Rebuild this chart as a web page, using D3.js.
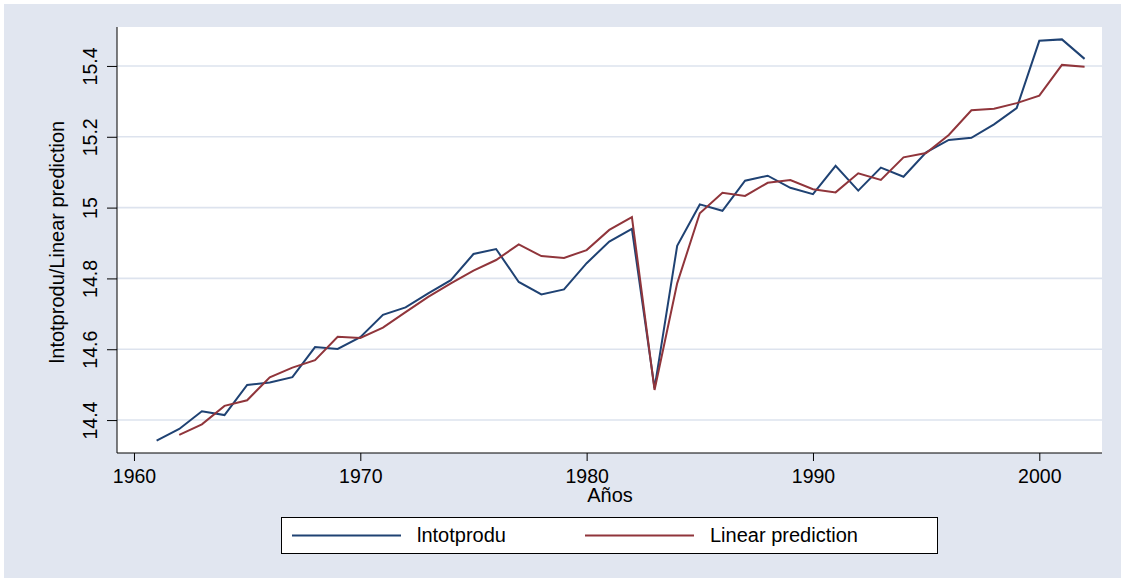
<!DOCTYPE html>
<html>
<head>
<meta charset="utf-8">
<script src="https://cdn.jsdelivr.net/npm/d3@7"></script>
<style>
  html, body { margin: 0; padding: 0; background: #ffffff; }
  svg { display: block; font-family: "Liberation Sans", Arial, sans-serif; }
</style>
</head>
<body>
<svg id="chart" width="1121" height="578"></svg>
<script>
// ---- data ----
const yearsActual = d3.range(1961, 2003);
const lntotprodu = [
  14.342, 14.375, 14.425, 14.414, 14.499, 14.506, 14.521, 14.606, 14.601, 14.634, 14.697, 14.718,
  14.758, 14.795, 14.869, 14.883, 14.790, 14.755, 14.769, 14.843, 14.904, 14.940,
  14.490, 14.892, 15.009, 14.991, 15.076, 15.090, 15.056, 15.038, 15.118, 15.048,
  15.113, 15.087, 15.156, 15.191, 15.197, 15.235, 15.281, 15.471, 15.475, 15.420
];
const yearsPred = d3.range(1962, 2003);
const linearPrediction = [
  14.358, 14.388, 14.440, 14.456, 14.521, 14.548, 14.569, 14.635, 14.632, 14.661, 14.705,
  14.748, 14.786, 14.822, 14.852, 14.896, 14.863, 14.858, 14.880, 14.937, 14.973,
  14.485, 14.786, 14.984, 15.042, 15.033, 15.070, 15.078, 15.052, 15.043, 15.097,
  15.078, 15.142, 15.154, 15.205, 15.275, 15.279, 15.295, 15.316, 15.403, 15.398
];
const xTicks = [1960, 1970, 1980, 1990, 2000];
const yTicks = [14.4, 14.6, 14.8, 15.0, 15.2, 15.4];
const seriesNames = ["lntotprodu", "Linear prediction"];
const seriesColors = ["#1f4273", "#90353b"];
const xTitle = "Años";
const yTitle = "lntotprodu/Linear prediction";

// ---- layout ----
const W = 1121, H = 578;
const plot = { left: 117, right: 1102, top: 27, bottom: 453 };
const bg = "#e1e6f0";
const gridColor = "#dde3ee";

const svg = d3.select("#chart");
svg.append("rect").attr("x", 0).attr("y", 0).attr("width", W).attr("height", H).attr("fill", "#ffffff");
svg.append("rect").attr("x", 4).attr("y", 4).attr("width", W - 4).attr("height", H - 4).attr("fill", bg);
svg.append("rect").attr("x", plot.left).attr("y", plot.top)
  .attr("width", plot.right - plot.left).attr("height", plot.bottom - plot.top).attr("fill", "#ffffff");

const x = d3.scaleLinear().domain([1959.25, 2002.77]).range([plot.left, plot.right]);
const y = d3.scaleLinear().domain([14.307, 15.510]).range([plot.bottom, plot.top]);

// grid
svg.append("g").selectAll("line").data(yTicks).join("line")
  .attr("x1", plot.left).attr("x2", plot.right)
  .attr("y1", d => y(d)).attr("y2", d => y(d))
  .attr("stroke", gridColor).attr("stroke-width", 1.6);

// axes
const fmtY = d => (d === 15 ? "15" : d3.format(".1f")(d));
const yAxis = d3.axisLeft(y).tickValues(yTicks).tickFormat(fmtY).tickSize(10).tickPadding(8);
const gy = svg.append("g").attr("transform", `translate(${plot.left},0)`).call(yAxis);
gy.select(".domain").attr("d", `M0,${plot.top}V${plot.bottom}`).attr("stroke", "#000");
gy.selectAll(".tick line").attr("stroke", "#000");
gy.selectAll(".tick text")
  .attr("font-size", 19.5).attr("fill", "#000")
  .attr("text-anchor", "middle").attr("dy", null)
  .attr("x", null)
  .attr("transform", "translate(-20,0) rotate(-90)")
  .attr("y", 0);

const xAxis = d3.axisBottom(x).tickValues(xTicks).tickFormat(d3.format("d")).tickSize(8).tickPadding(8);
const gx = svg.append("g").attr("transform", `translate(0,${plot.bottom})`).call(xAxis);
gx.select(".domain").attr("d", `M${plot.left},0H${plot.right}`).attr("stroke", "#000");
gx.selectAll(".tick line").attr("stroke", "#000");
gx.selectAll(".tick text").attr("font-size", 19.5).attr("fill", "#000").attr("dy", null).attr("y", 30);

// axis titles
svg.append("text").attr("x", 610).attr("y", 502).attr("text-anchor", "middle")
  .attr("font-size", 20).attr("fill", "#000").text(xTitle);
svg.append("text").attr("transform", `translate(64,${(plot.top + plot.bottom) / 2 + 2}) rotate(-90)`)
  .attr("text-anchor", "middle").attr("font-size", 20).attr("fill", "#000").text(yTitle);

// lines
const line = d3.line().x(d => x(d[0])).y(d => y(d[1]));
const series = [
  d3.zip(yearsActual, lntotprodu),
  d3.zip(yearsPred, linearPrediction)
];
svg.append("g").selectAll("path").data(series).join("path")
  .attr("d", line).attr("fill", "none")
  .attr("stroke", (d, i) => seriesColors[i]).attr("stroke-width", 2)
  .attr("stroke-linejoin", "miter");

// legend
const lg = svg.append("g");
lg.append("rect").attr("x", 281.5).attr("y", 517.5).attr("width", 656).attr("height", 36)
  .attr("fill", "#ffffff").attr("stroke", "#000").attr("stroke-width", 1);
const legendX = [292, 585];
seriesNames.forEach((name, i) => {
  lg.append("line").attr("x1", legendX[i]).attr("x2", legendX[i] + 109)
    .attr("y1", 535.5).attr("y2", 535.5)
    .attr("stroke", seriesColors[i]).attr("stroke-width", 2);
  lg.append("text").attr("x", legendX[i] + 125).attr("y", 542)
    .attr("font-size", 20).attr("fill", "#000").text(name);
});
</script>
</body>
</html>
